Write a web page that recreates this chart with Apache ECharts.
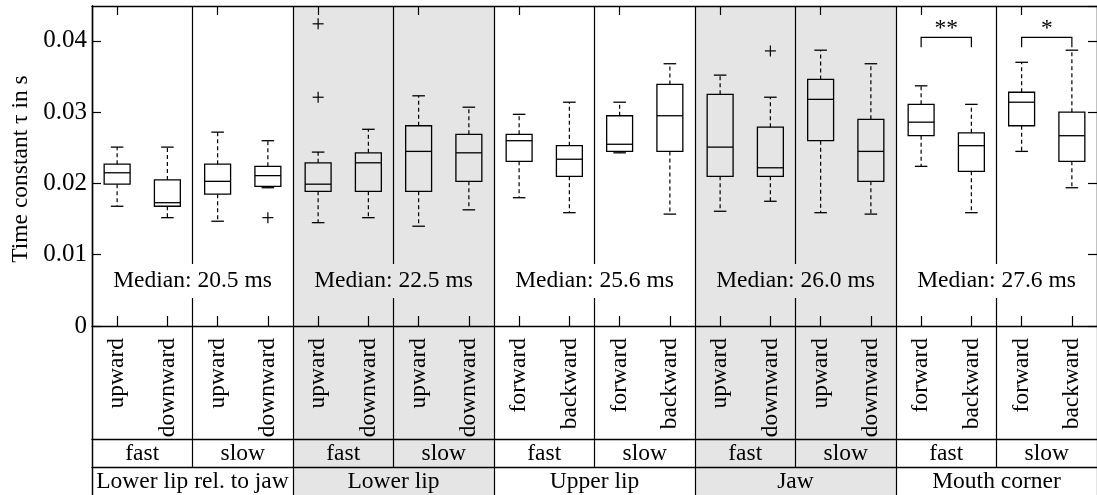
<!DOCTYPE html>
<html>
<head>
<meta charset="utf-8">
<script src="https://cdn.jsdelivr.net/npm/echarts@6/dist/echarts.min.js"></script>
<style>
html,body{margin:0;padding:0;background:#fff;}
#chart{width:1097px;height:495px;}
</style>
</head>
<body>
<div id="chart"></div>
<script>
// ---------------- data ----------------
const categories = ['upward','downward','upward','downward','upward','downward','upward','downward',
  'forward','backward','forward','backward','upward','downward','upward','downward',
  'forward','backward','forward','backward'];
const speeds = ['fast','slow','fast','slow','fast','slow','fast','slow','fast','slow'];
const groups = ['Lower lip rel. to jaw','Lower lip','Upper lip','Jaw','Mouth corner'];
const groupMedians = [20.5, 22.5, 25.6, 26.0, 27.6];

const whiskerLow  = [0.0168,0.0152,0.0147,0.0194,0.0145,0.0152,0.0140,0.0163,0.0180,0.0159,0.0243,0.0157,0.0161,0.0175,0.0159,0.0157,0.0224,0.0159,0.0245,0.0194];
const quartile1   = [0.0199,0.0168,0.0185,0.0196,0.0189,0.0189,0.0189,0.0203,0.0231,0.0210,0.0245,0.0245,0.0210,0.0210,0.0260,0.0203,0.0267,0.0217,0.0281,0.0231];
const medianVal   = [0.0215,0.0173,0.0203,0.0211,0.0199,0.0229,0.0245,0.0243,0.0260,0.0234,0.0255,0.0295,0.0251,0.0222,0.0318,0.0245,0.0286,0.0253,0.0314,0.0267];
const quartile3   = [0.0227,0.0205,0.0227,0.0224,0.0229,0.0243,0.0281,0.0269,0.0269,0.0253,0.0295,0.0339,0.0325,0.0279,0.0346,0.0290,0.0311,0.0271,0.0328,0.0300];
const whiskerHigh = [0.0251,0.0251,0.0272,0.0260,0.0244,0.0276,0.0323,0.0307,0.0297,0.0314,0.0314,0.0368,0.0352,0.0321,0.0387,0.0368,0.0337,0.0311,0.0370,0.0387];
const outlierIdx  = [4, 4, 3, 13];
const outlierVal  = [0.0424, 0.0321, 0.0152, 0.0386];
const sigPairs = [[16,17],[18,19]];
const sigMarks = ['**','*'];
const yMin = 0, yMax = 0.0449, yStep = 0.01;

// ---------------- style ----------------
const FONT = '"Liberation Serif", "Times New Roman", Times, serif';
const FS = 23.5;
const GRAY = '#e5e5e5';
const LEFT = 92, WIDTH = 1009;

const boxData = categories.map((c, i) => [i, whiskerLow[i], quartile1[i], medianVal[i], quartile3[i], whiskerHigh[i]]);
const outlierData = outlierIdx.map((i, k) => [i, outlierVal[k]]);
const sigData = sigPairs.map((p, k) => [p[0], p[1], k]);
const medianData = groupMedians.map((m, g) => [g, m]);

function renderBox(params, api) {
  const i = api.value(0);
  const band = api.size([1, 0])[0];
  const hw = band * 0.258, cw = band * 0.125;
  const lo = api.coord([i, api.value(1)]);
  const a = api.coord([i, api.value(2)]);
  const m = api.coord([i, api.value(3)]);
  const b = api.coord([i, api.value(4)]);
  const hi = api.coord([i, api.value(5)]);
  const x = lo[0];
  const solid = {stroke: '#000', lineWidth: 1.3, fill: null};
  const dashed = {stroke: '#000', lineWidth: 1.2, lineDash: [4, 3], fill: null};
  return {type: 'group', children: [
    {type: 'line', shape: {x1: x, y1: b[1], x2: x, y2: hi[1]}, style: dashed},
    {type: 'line', shape: {x1: x, y1: a[1], x2: x, y2: lo[1]}, style: dashed},
    {type: 'line', shape: {x1: x - cw, y1: hi[1], x2: x + cw, y2: hi[1]}, style: solid},
    {type: 'line', shape: {x1: x - cw, y1: lo[1], x2: x + cw, y2: lo[1]}, style: solid},
    {type: 'rect', shape: {x: x - hw, y: b[1], width: 2 * hw, height: a[1] - b[1]}, style: {stroke: '#000', lineWidth: 1.3, fill: 'none'}},
    {type: 'line', shape: {x1: x - hw, y1: m[1], x2: x + hw, y2: m[1]}, style: solid}
  ]};
}

function renderOutlier(params, api) {
  const p = api.coord([api.value(0), api.value(1)]);
  const s = 5.5;
  const st = {stroke: '#000', lineWidth: 1.2};
  return {type: 'group', children: [
    {type: 'line', shape: {x1: p[0] - s, y1: p[1], x2: p[0] + s, y2: p[1]}, style: st},
    {type: 'line', shape: {x1: p[0], y1: p[1] - s, x2: p[0], y2: p[1] + s}, style: st}
  ]};
}

function renderSig(params, api) {
  const i = api.value(0), j = api.value(1), k = api.value(2);
  const top = 0.0405, leg = 0.0391;
  const a1 = api.coord([i, leg]), a2 = api.coord([i, top]);
  const b1 = api.coord([j, leg]), b2 = api.coord([j, top]);
  const st = {stroke: '#000', lineWidth: 1.2, fill: null};
  return {type: 'group', children: [
    {type: 'polyline', shape: {points: [a1, a2, b2, b1]}, style: st},
    {type: 'text', x: (a2[0] + b2[0]) / 2, y: a2[1] + 3,
      style: {text: sigMarks[k], fill: '#000', font: FS + 'px ' + FONT, align: 'center', verticalAlign: 'bottom'}}
  ]};
}

function renderMedian(params, api) {
  const g = api.value(0);
  const p1 = api.coord([4 * g + 1, 0.0063]);
  const p2 = api.coord([4 * g + 2, 0.0063]);
  return {type: 'text', x: (p1[0] + p2[0]) / 2, y: p1[1],
    style: {text: 'Median: ' + api.value(1).toFixed(1) + ' ms', fill: '#000',
      font: FS + 'px ' + FONT, align: 'center', verticalAlign: 'middle',
      backgroundColor: g % 2 ? GRAY : '#fff', padding: [5, 3, 5, 3]}};
}

const txt = {fontFamily: FONT, fontSize: FS, color: '#000'};
const blackLine = {show: true, onZero: false, lineStyle: {color: '#000', width: 1.3}};
const none = {show: false};
const noLine = {show: false, onZero: false};

const option = {
  animation: false,
  backgroundColor: '#fff',
  textStyle: {fontFamily: FONT},
  grid: [
    {left: LEFT, top: 6, width: WIDTH, height: 320},
    {left: LEFT, top: 6, width: WIDTH, height: 489},
    {left: LEFT, top: 6, width: WIDTH, height: 461},
    {left: LEFT, top: 439, width: WIDTH, height: 28},
    {left: LEFT, top: 467, width: WIDTH, height: 28}
  ],
  xAxis: [
    {gridIndex: 0, type: 'category', data: categories, position: 'bottom', z: 5,
      axisLine: blackLine,
      axisTick: {show: true, inside: true, length: 10, alignWithLabel: true, lineStyle: {color: '#000', width: 1.2}},
      axisLabel: Object.assign({rotate: 90, margin: 12, interval: 0}, txt),
      splitLine: none},
    {gridIndex: 0, type: 'category', data: categories, position: 'top', z: 5,
      axisLine: blackLine,
      axisTick: {show: true, inside: true, length: 9, alignWithLabel: true, lineStyle: {color: '#000', width: 1.2}},
      axisLabel: none, splitLine: none},
    {gridIndex: 1, type: 'category', data: groups, position: 'bottom', z: 0,
      axisLine: noLine, axisTick: none, axisLabel: none, splitLine: none,
      splitArea: {show: true, interval: 0, areaStyle: {color: ['rgba(255,255,255,0)', GRAY]}}},
    {gridIndex: 2, type: 'category', data: speeds, position: 'bottom', z: 1,
      axisLine: noLine, axisTick: none, axisLabel: none,
      splitLine: {show: true, interval: 0, lineStyle: {color: '#000', width: 1.2}}},
    {gridIndex: 3, type: 'category', data: speeds, position: 'top', z: 5,
      axisLine: blackLine, axisTick: none,
      axisLabel: Object.assign({inside: true, margin: 3, interval: 0}, txt), splitLine: none},
    {gridIndex: 4, type: 'category', data: groups, position: 'top', z: 5,
      axisLine: blackLine, axisTick: none,
      axisLabel: Object.assign({inside: true, margin: 3, interval: 0}, txt),
      splitLine: {show: true, interval: 0, lineStyle: {color: '#000', width: 1.2}}}
  ],
  yAxis: [
    {gridIndex: 0, type: 'value', min: yMin, max: yMax, interval: yStep, position: 'left', z: 5,
      name: 'Time constant \u03c4 in s', nameLocation: 'middle', nameGap: 53,
      nameTextStyle: {fontFamily: FONT, fontSize: FS, color: '#000', padding: [0, 6, 0, 0]},
      axisLine: blackLine,
      axisTick: {show: true, inside: true, length: 9, lineStyle: {color: '#000', width: 1.2}},
      axisLabel: Object.assign({margin: 5, showMaxLabel: false,
        formatter: v => (v === 0 ? '0' : v.toFixed(2))}, txt, {fontSize: 25}),
      splitLine: none},
    {gridIndex: 0, type: 'value', min: yMin, max: yMax, interval: yStep, position: 'right', z: 5,
      axisLine: blackLine,
      axisTick: {show: true, inside: true, length: 9, lineStyle: {color: '#000', width: 1.2}},
      axisLabel: none, splitLine: none},
    {gridIndex: 1, type: 'value', position: 'left', z: 5, min: 0, max: 1,
      axisLine: blackLine, axisTick: none, axisLabel: none, splitLine: none},
    {gridIndex: 2, type: 'value', show: false, min: 0, max: 1},
    {gridIndex: 3, type: 'value', show: false, min: 0, max: 1},
    {gridIndex: 4, type: 'value', show: false, min: 0, max: 1}
  ],
  series: [
    {type: 'custom', name: 'boxes', xAxisIndex: 0, yAxisIndex: 0, z: 4,
      renderItem: renderBox, data: boxData, encode: {x: 0, y: [1, 2, 3, 4, 5]}},
    {type: 'custom', name: 'outliers', xAxisIndex: 0, yAxisIndex: 0, z: 4,
      renderItem: renderOutlier, data: outlierData, encode: {x: 0, y: 1}},
    {type: 'custom', name: 'significance', xAxisIndex: 0, yAxisIndex: 0, z: 4,
      renderItem: renderSig, data: sigData, encode: {x: 0}},
    {type: 'custom', name: 'medians', xAxisIndex: 0, yAxisIndex: 0, z: 6,
      renderItem: renderMedian, data: medianData, encode: {x: 0}}
  ]
};

const chart = echarts.init(document.getElementById('chart'), null, {renderer: 'canvas'});
chart.setOption(option);
</script>
</body>
</html>
